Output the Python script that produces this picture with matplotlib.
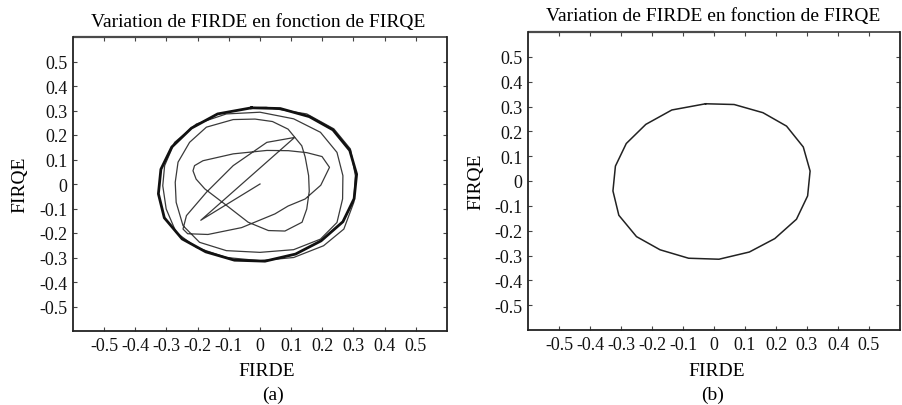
import matplotlib
matplotlib.use("Agg")
import matplotlib.pyplot as plt

plt.rcParams['font.family'] = ['Liberation Serif', 'DejaVu Serif']

# tick positions / labels (same on both axes)
ticks = [-0.5, -0.4, -0.3, -0.2, -0.1, 0.0, 0.1, 0.2, 0.3, 0.4, 0.5]
tick_labels = ['-0.5', '-0.4', '-0.3', '-0.2', '-0.1', '0', '0.1', '0.2', '0.3', '0.4', '0.5']

# (a) transient trajectory of the estimated rotor flux
firde_a = [0.000, -0.190, 0.111, 0.022, -0.086, -0.172, -0.236, -0.247,
           -0.232, -0.167, -0.059, 0.048, 0.090, 0.145, 0.195, 0.223,
           0.199, 0.150, 0.091, 0.022, -0.086, -0.183, -0.210, -0.215,
           -0.205, -0.177, -0.113, -0.038, 0.027, 0.080, 0.135, 0.150, 0.158,
           0.156, 0.145, 0.134, 0.090, 0.040, -0.016,
           -0.086, -0.172, -0.226, -0.263, -0.272, -0.269, -0.247, -0.194,
           -0.108, 0.000, 0.108, 0.194, 0.247, 0.265, 0.266, 0.247, 0.194,
           0.108, 0.000,
           -0.108, -0.204, -0.274, -0.306, -0.312, -0.301, -0.269, -0.204,
           -0.108, 0.000, 0.108, 0.204, 0.269, 0.301, 0.306, 0.290, 0.237,
           0.150, 0.020, -0.027]
firqe_a = [0.000, -0.148, 0.190, 0.170, 0.075, -0.034, -0.129, -0.184,
           -0.203, -0.206, -0.178, -0.122, -0.090, -0.061, -0.005, 0.068,
           0.112, 0.128, 0.136, 0.137, 0.123, 0.095, 0.075, 0.054,
           0.020, -0.020, -0.082, -0.156, -0.190, -0.192, -0.156, -0.102, -0.030,
           0.034, 0.110, 0.156, 0.224, 0.255, 0.265,
           0.263, 0.232, 0.170, 0.089, 0.007, -0.075, -0.170, -0.238,
           -0.272, -0.279, -0.268, -0.225, -0.157, -0.061, 0.034, 0.129, 0.211,
           0.266, 0.293,
           0.286, 0.245, 0.170, 0.075, -0.007, -0.102, -0.198, -0.259,
           -0.300, -0.313, -0.300, -0.252, -0.184, -0.075, 0.034, 0.143, 0.225,
           0.286, 0.313, 0.311]

# steady state cycle (panel b, also the outer ring of panel a)
firde_ss = [-0.027, 0.065, 0.158, 0.234, 0.288, 0.310, 0.302, 0.266, 0.196,
            0.114, 0.016, -0.082, -0.174, -0.250, -0.307, -0.326, -0.318,
            -0.283, -0.220, -0.136, -0.027]
firqe_ss = [0.311, 0.308, 0.275, 0.221, 0.137, 0.040, -0.060, -0.154, -0.232,
            -0.286, -0.315, -0.311, -0.277, -0.224, -0.138, -0.040, 0.060,
            0.151, 0.228, 0.286, 0.311]

W, H = 903, 406
fig = plt.figure(figsize=(W / 100, H / 100), dpi=100)

def px_axes(x0, y0, x1, y1):
    return fig.add_axes([x0 / W, 1 - y1 / H, (x1 - x0) / W, (y1 - y0) / H])

def style(ax):
    ax.set_xlim(-0.6, 0.6)
    ax.set_ylim(-0.6, 0.6)
    ax.set_xticks(ticks)
    ax.set_xticklabels(tick_labels)
    ax.set_yticks(ticks)
    ax.set_yticklabels(tick_labels)
    ax.tick_params(direction='in', length=3, width=0.8, top=True, right=True,
                   labelsize=13, pad=4, colors='#444444', labelcolor='#111111')
    for s in ax.spines.values():
        s.set_linewidth(1.3)
        s.set_color('#222222')
    # top border: left half slightly softer, as in the scan
    ax.spines['top'].set_visible(False)
    ax.plot([0, 0.5], [1, 1], transform=ax.transAxes, color='#4a4a4a',
            lw=1.6, clip_on=False, solid_capstyle='butt')
    ax.plot([0.5, 1], [1, 1], transform=ax.transAxes, color='#2a2a2a',
            lw=1.1, clip_on=False, solid_capstyle='butt')

ax1 = px_axes(73, 38, 447, 332)
ax1.plot(firde_a, firqe_a, color='#3a3a3a', lw=0.9)
ax1.plot(firde_ss, firqe_ss, color='#111111', lw=2.0)
style(ax1)

ax2 = px_axes(528, 33, 900, 331)
ax2.plot(firde_ss, firqe_ss, color='#222222', lw=1.1)
style(ax2)

title = 'Variation de FIRDE en fonction de FIRQE'
fig.text(258 / W, 1 - 22 / H, title, ha='center', va='center', fontsize=14)
fig.text(713 / W, 1 - 17 / H, title, ha='center', va='center', fontsize=14)

fig.text(267 / W, 1 - 372 / H, 'FIRDE', ha='center', va='center', fontsize=14)
fig.text(717 / W, 1 - 372 / H, 'FIRDE', ha='center', va='center', fontsize=14)
fig.text(20 / W, 1 - 185 / H, 'FIRQE', ha='center', va='center', fontsize=14, rotation=90)
fig.text(476 / W, 1 - 182 / H, 'FIRQE', ha='center', va='center', fontsize=14, rotation=90)
fig.text(273 / W, 1 - 395 / H, '(a)', ha='center', va='center', fontsize=14)
fig.text(713 / W, 1 - 395 / H, '(b)', ha='center', va='center', fontsize=14)

fig.savefig('out.png', dpi=100)
